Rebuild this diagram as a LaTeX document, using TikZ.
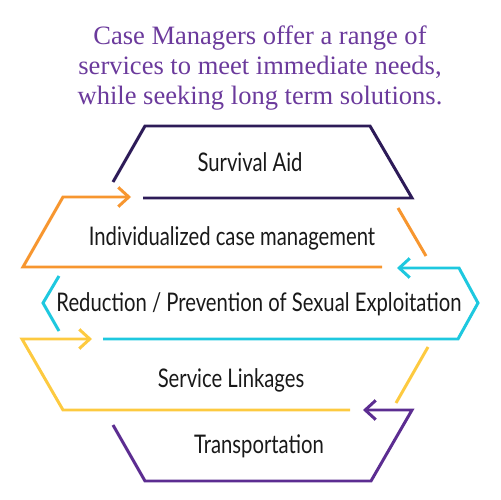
\documentclass[tikz,border=0pt]{standalone}
\usepackage{fontspec}
\setmainfont{Liberation Serif}
\newfontfamily\labelfont[FakeStretch=0.79]{Lato}
\usetikzlibrary{arrows.meta}
\definecolor{darkplum}{HTML}{2D1B58}
\definecolor{caseorange}{HTML}{F7962F}
\definecolor{casecyan}{HTML}{1EC8DF}
\definecolor{caseyellow}{HTML}{FDCA40}
\definecolor{casepurple}{HTML}{5C2D91}
\definecolor{titlepurple}{HTML}{6B3A9C}
\tikzset{
    band/.style={line width=1.7pt, line join=miter},
    flow/.style={band, -{Straight Barb[length=6pt, width=11pt, line width=1.7pt]}},
    bandlabel/.style={font=\labelfont\fontsize{14.6}{16}\selectfont, text=black!90, inner sep=0pt}
}
\begin{document}
\begin{tikzpicture}[x=0.02cm, y=-0.02cm]
    \useasboundingbox (0,0) rectangle (500,500);
    \node[font=\fontsize{15.1}{17.2}\selectfont, text=titlepurple, align=center] (title) at (260,68)
        {Case Managers offer a range of\\services to meet immediate needs,\\while seeking long term solutions.};

    \node[bandlabel] (survival) at (250,162) {Survival Aid};
    \node[bandlabel] (casemgmt) at (232,238) {Individualized case management};
    \node[bandlabel] (reduction) at (259,304) {Reduction / Prevention of Sexual Exploitation};
    \node[bandlabel] (linkages) at (231,380) {Service Linkages};
    \node[bandlabel] (transport) at (259,446) {Transportation};

    % survival aid
    \draw[band, darkplum] (113,182) -- (145,126) -- (370,126) -- (412,198) -- (143,198);
    % case management
    \draw[flow, caseorange] (382,267) -- (23,267) -- (63,197) -- (131,197);
    \draw[band, caseorange] (398,208) -- (426,256);
    % reduction / prevention
    \draw[flow, casecyan] (103,339) -- (458,339) -- (478,303) -- (459,268) -- (397,268);
    \draw[band, casecyan] (59,276) -- (43,303) -- (59,331);
    % service linkages
    \draw[flow, caseyellow] (350,410) -- (63,410) -- (22,339) -- (92,339);
    \draw[band, caseyellow] (428,347) -- (396,403);
    % transportation
    \draw[flow, casepurple] (113,425) -- (145,481) -- (371,481) -- (412,410) -- (363,410);
\end{tikzpicture}
\end{document}
